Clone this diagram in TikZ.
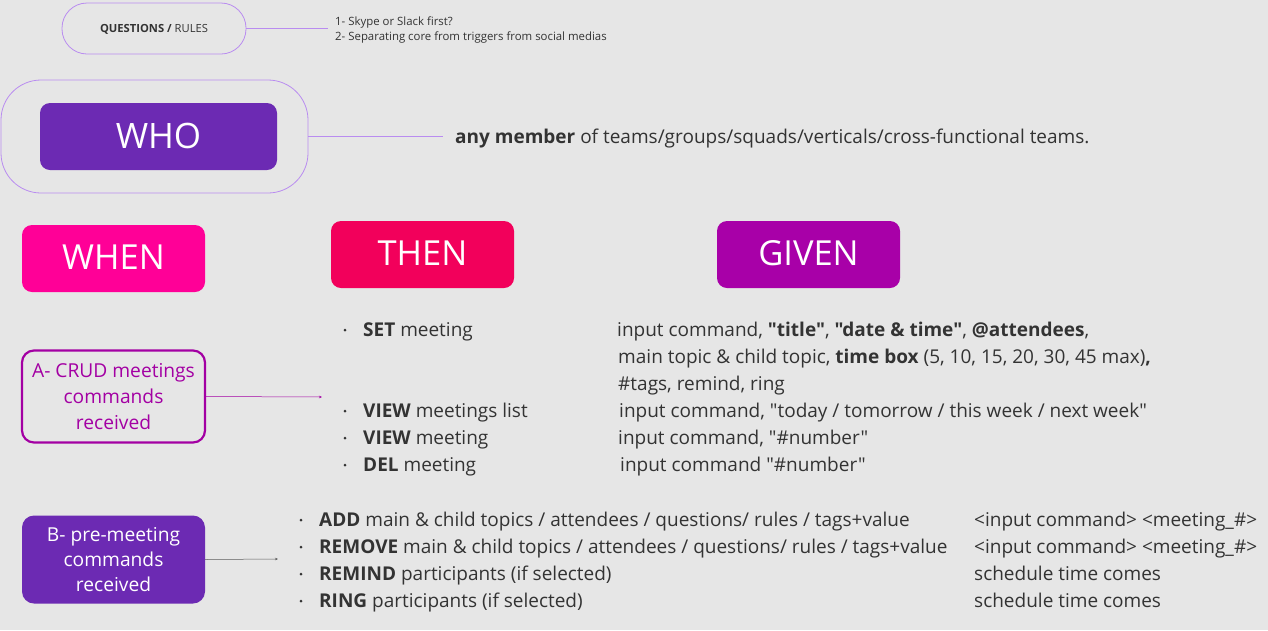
\documentclass[tikz,border=0pt]{standalone}
\usepackage{fontspec}
\setmainfont{Open Sans}[Ligatures=TeXOff]
\usetikzlibrary{arrows.meta}
\definecolor{bg}{RGB}{230,230,230}
\definecolor{lav}{RGB}{185,140,240}
\definecolor{whoc}{RGB}{108,42,179}
\definecolor{whenc}{RGB}{255,0,151}
\definecolor{thenc}{RGB}{242,0,91}
\definecolor{givenc}{RGB}{168,0,168}
\definecolor{crud}{RGB}{163,0,163}
\definecolor{txt}{RGB}{51,51,51}
\tikzset{
  bigbox/.style={rounded corners=10pt, minimum width=183pt, minimum height=67pt, inner sep=0pt, text=white, font=\fontsize{34.5}{36}\selectfont},
  body/.style={anchor=base west, inner sep=0pt, text=txt, font=\fontsize{19}{22}\selectfont},
  small/.style={anchor=base west, inner sep=0pt, text=txt, font=\fontsize{11.4}{13}\selectfont},
  dot/.style={circle, fill=txt, inner sep=0pt, minimum size=3pt},
  lavline/.style={draw=lav, line width=0.8pt},
}
\begin{document}
\begin{tikzpicture}[x=1pt,y=-1pt]
\fill[bg] (0,0) rectangle (1268,630);
\useasboundingbox (0,0) rectangle (1268,630);

% questions / rules
\node[lavline, rounded corners=25pt, minimum width=184pt, minimum height=51pt, inner sep=0pt] (q) at (154,28.5) {};
\node[anchor=base, inner sep=0pt, text=txt, font=\fontsize{11.2}{13}\selectfont] (qt) at (154,32.5) {\textbf{QUESTIONS /} RULES};
\coordinate (qe) at (328,28.5);
\draw[lavline] (q.east) -- (qe);
\node[small] (q1) at (335,25) {1- Skype or Slack first?};
\node[small] (q2) at (335,40.5) {2- Separating core from triggers from social medias};

% who
\node[lavline, rounded corners=40pt, minimum width=307pt, minimum height=113pt, inner sep=0pt] (whoout) at (154.5,136.5) {};
\node[bigbox, fill=whoc, minimum width=237pt, font=\fontsize{35}{38}\selectfont] (who) at (158.5,136.5) {\raisebox{1pt}{WHO}};
\coordinate (we) at (443,136.5);
\draw[lavline] (whoout.east) -- (we);
\node[body] (wt) at (455,143.5) {\textbf{any member} of teams/groups/squads/verticals/cross-functional teams.};

% headers
\node[bigbox, fill=whenc] (when) at (113.5,258.5) {\raisebox{3pt}{WHEN}};
\node[bigbox, fill=thenc] (then) at (422.5,254.5) {\raisebox{3pt}{THEN}};
\node[bigbox, fill=givenc] (given) at (808.5,254.5) {\raisebox{3pt}{GIVEN}};

% A box
\node[draw=crud, line width=2.2pt, rounded corners=12pt, minimum width=183pt, minimum height=92pt, inner sep=0pt, text=crud, align=center, font=\fontsize{19.2}{26}\selectfont] (a) at (113.5,396.5) {A- CRUD meetings\\commands\\received};
\coordinate (ae) at (322,397);
\draw[crud, line width=0.5pt, -{Stealth[length=3pt,width=2.5pt]}] (a.east) -- (ae);

% A bullets
\node[dot] (d1) at (345,330) {};
\node[body] (s1) at (363,336) {\textbf{SET} meeting};
\node[dot] (d2) at (345,411) {};
\node[body] (s2) at (363,417) {\textbf{VIEW} meetings list};
\node[dot] (d3) at (345,438) {};
\node[body] (s3) at (363,444) {\textbf{VIEW} meeting};
\node[dot] (d4) at (345,465) {};
\node[body] (s4) at (363,471) {\textbf{DEL} meeting};

\node[body] (g1) at (617,336) {input command, \textbf{"title"}, \textbf{"date \& time"}, \textbf{@attendees},};
\node[body] (g2) at (618,363) {main topic \& child topic, \textbf{time box} (5, 10, 15, 20, 30, 45 max)\textbf{,}};
\node[body] (g3) at (618,390) {\#tags, remind, ring};
\node[body] (g4) at (619,417) {input command, "today / tomorrow / this week / next week"};
\node[body] (g5) at (618,444) {input command, "\#number"};
\node[body] (g6) at (620,471) {input command "\#number"};

% B box
\node[fill=whoc, rounded corners=12pt, minimum width=183pt, minimum height=88pt, inner sep=0pt, text=white, align=center, font=\fontsize{19.2}{25}\selectfont] (b) at (113.5,559.5) {B- pre-meeting\\commands\\received};
\coordinate (be) at (278,559);
\draw[txt!80, line width=0.5pt, -{Stealth[length=3pt,width=2.5pt]}] (b.east) -- (be);

\node[dot] (e1) at (301,520) {};
\node[body] (b1) at (319,526) {\textbf{ADD} main \& child topics / attendees / questions/ rules / tags+value};
\node[dot] (e2) at (301,547) {};
\node[body] (b2) at (319,553) {\textbf{REMOVE} main \& child topics / attendees / questions/ rules / tags+value};
\node[dot] (e3) at (301,574) {};
\node[body] (b3) at (319,580) {\textbf{REMIND} participants (if selected)};
\node[dot] (e4) at (301,601) {};
\node[body] (b4) at (319,607) {\textbf{RING} participants (if selected)};

\node[body] (r1) at (974,526) {<input command> <meeting\_\#>};
\node[body] (r2) at (974,553) {<input command> <meeting\_\#>};
\node[body] (r3) at (974,580) {schedule time comes};
\node[body] (r4) at (974,607) {schedule time comes};
\end{tikzpicture}
\end{document}
